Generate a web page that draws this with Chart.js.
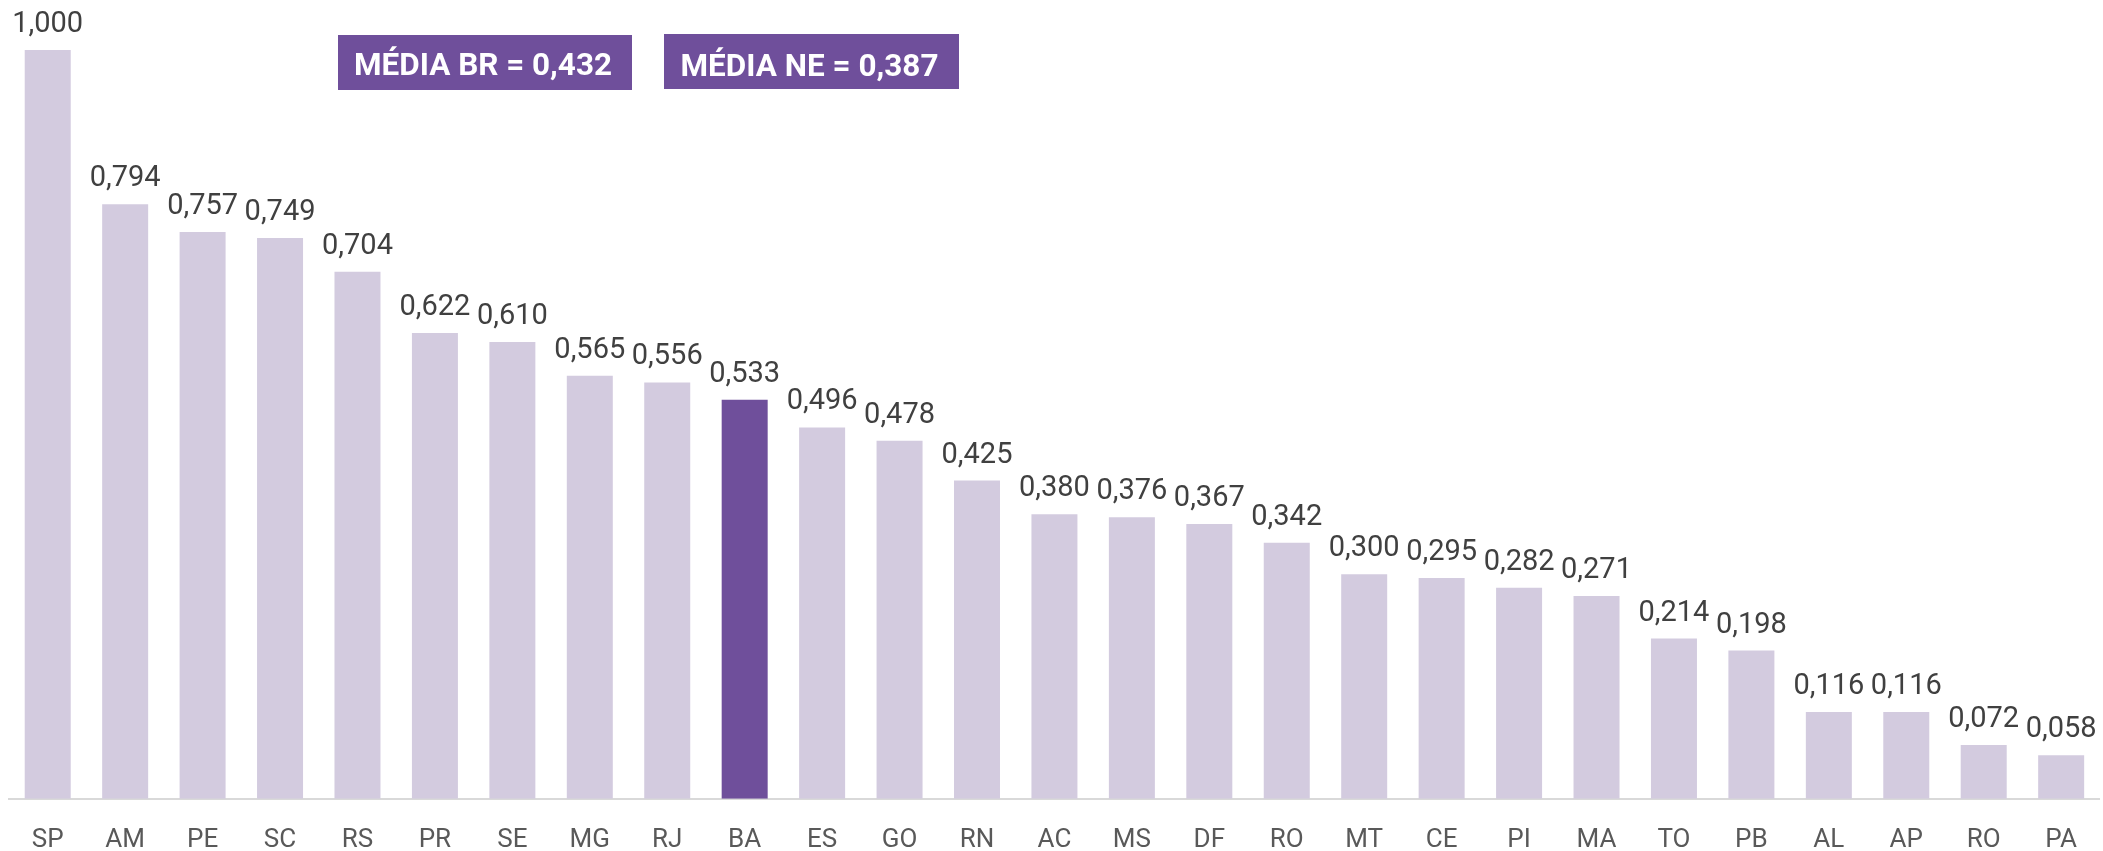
<!DOCTYPE html>
<html>
<head>
<meta charset="utf-8">
<script src="https://cdn.jsdelivr.net/npm/chart.js@4.4.1/dist/chart.umd.min.js"></script>
<style>
html,body{margin:0;padding:0;background:#fff;overflow:hidden;}
#wrap{width:2103px;height:851px;position:relative;overflow:hidden;}
</style>
</head>
<body>
<div id="wrap"><canvas id="c" width="2103" height="882"></canvas></div>
<script>
const categories = ["SP","AM","PE","SC","RS","PR","SE","MG","RJ","BA","ES","GO","RN","AC","MS","DF","RO","MT","CE","PI","MA","TO","PB","AL","AP","RO","PA"];
const values = [1.000,0.794,0.757,0.749,0.704,0.622,0.610,0.565,0.556,0.533,0.496,0.478,0.425,0.380,0.376,0.367,0.342,0.300,0.295,0.282,0.271,0.214,0.198,0.116,0.116,0.072,0.058];
const highlight = "BA";
const mediaLabels = ["MÉDIA BR = 0,432", "MÉDIA NE = 0,387"];

const LIGHT = "#d3cbdf";
const DARK = "#6f4f9b";
const barColors = categories.map(c => c === highlight ? DARK : LIGHT);

const fmt = v => v.toFixed(3).replace('.', ',');

const valueLabels = {
  id: 'valueLabels',
  afterDatasetsDraw(chart) {
    const ctx = chart.ctx;
    const meta = chart.getDatasetMeta(0);
    ctx.save();
    ctx.font = '29px Roboto';
    ctx.fillStyle = '#404040';
    ctx.textAlign = 'center';
    ctx.textBaseline = 'alphabetic';
    meta.data.forEach((bar, i) => {
      ctx.fillText(fmt(values[i]), bar.x, bar.y - 18);
    });
    ctx.restore();
  }
};

const mediaBoxes = {
  id: 'mediaBoxes',
  afterDraw(chart) {
    const ctx = chart.ctx;
    const boxes = [
      {x: 338, y: 35, w: 294, h: 55, base: 75},
      {x: 664, y: 34, w: 295, h: 55, base: 76}
    ];
    ctx.save();
    boxes.forEach((b, i) => {
      ctx.fillStyle = DARK;
      ctx.fillRect(b.x, b.y, b.w, b.h);
      ctx.font = 'bold 32px Roboto';
      const tw = ctx.measureText(mediaLabels[i]).width;
      const sx = 258 / tw;
      ctx.save();
      ctx.translate(b.x + b.w / 2 - 2, b.base);
      ctx.scale(sx, 1);
      ctx.fillStyle = '#ffffff';
      ctx.textAlign = 'center';
      ctx.textBaseline = 'alphabetic';
      ctx.fillText(mediaLabels[i], 0, 0);
      ctx.restore();
    });
    ctx.restore();
  }
};

new Chart(document.getElementById('c'), {
  type: 'bar',
  data: {
    labels: categories,
    datasets: [{
      data: values,
      backgroundColor: barColors,
      borderWidth: 0,
      barPercentage: 0.594,
      categoryPercentage: 1.0
    }]
  },
  options: {
    responsive: false,
    animation: false,
    devicePixelRatio: 1,
    layout: { padding: { left: 9, right: 2, top: 50, bottom: 0 } },
    plugins: { legend: { display: false }, tooltip: { enabled: false } },
    scales: {
      x: {
        grid: { display: false, drawTicks: false },
        border: { display: true, color: '#d9d9d9', width: 2 },
        ticks: { color: '#595959', font: { family: 'Roboto', size: 26 }, padding: 26, maxRotation: 0, autoSkip: false }
      },
      y: {
        display: false,
        min: 0,
        max: 1
      }
    }
  },
  plugins: [valueLabels, mediaBoxes]
});
</script>
</body>
</html>
